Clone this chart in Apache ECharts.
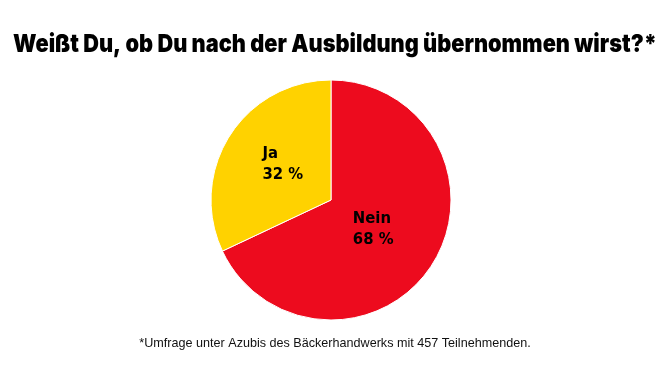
<!DOCTYPE html>
<html>
<head>
<meta charset="utf-8">
<script src="https://cdn.jsdelivr.net/npm/echarts@6/dist/echarts.min.js"></script>
<style>
  html, body { margin: 0; padding: 0; background: #fff; }
  #main { width: 670px; height: 376px; }
</style>
</head>
<body>
<div id="main"></div>
<script>
// Umfrage-Daten
var categories = ["Nein", "Ja"];
var values = [68, 32];
var colors = ["#ED0B1E", "#FFD200"];
var titleText = "Weißt Du, ob Du nach der Ausbildung übernommen wirst?*";
var noteText = "*Umfrage unter Azubis des Bäckerhandwerks mit 457 Teilnehmenden.";

// Titel: fette Schrift, horizontal gestaucht auf die Breite des Originals
var titleFont = "900 25px Inter";
var ctx = document.createElement("canvas").getContext("2d");
ctx.font = titleFont;
var titleW = ctx.measureText(titleText).width;
var titleScale = 644 / titleW;

// kleine Verschiebungen der Beschriftungen im Kreis
var labelOffsets = { Nein: [-11, -5], Ja: [5, -2] };

var chart = echarts.init(document.getElementById("main"));
chart.setOption({
  animation: false,
  title: {
    text: noteText,
    left: "center",
    top: 332,
    textStyle: {
      fontFamily: "Liberation Sans",
      fontWeight: "normal",
      fontSize: 12.6,
      color: "#111"
    }
  },
  graphic: [
    {
      type: "text",
      x: 335,
      y: 44,
      scaleX: titleScale,
      style: {
        text: titleText,
        font: titleFont,
        fill: "#000",
        align: "center",
        verticalAlign: "middle"
      }
    }
  ],
  series: [
    {
      type: "pie",
      center: [331, 200],
      radius: 120,
      startAngle: 90,
      clockwise: true,
      itemStyle: { borderColor: "#fff", borderWidth: 1 },
      label: {
        position: "inside",
        formatter: "{b}\n{c} %",
        fontFamily: "DejaVu Sans Condensed",
        fontWeight: "bold",
        fontSize: 16.5,
        lineHeight: 21,
        color: "#000"
      },
      labelLayout: function (p) {
        // Zeilen linksbündig, Block bleibt an seiner Stelle
        return { x: p.labelRect.x, align: "left" };
      },
      labelLine: { show: false },
      data: categories.map(function (c, i) {
        return {
          name: c,
          value: values[i],
          itemStyle: { color: colors[i] },
          label: { offset: labelOffsets[c] }
        };
      })
    }
  ]
});
</script>
</body>
</html>
